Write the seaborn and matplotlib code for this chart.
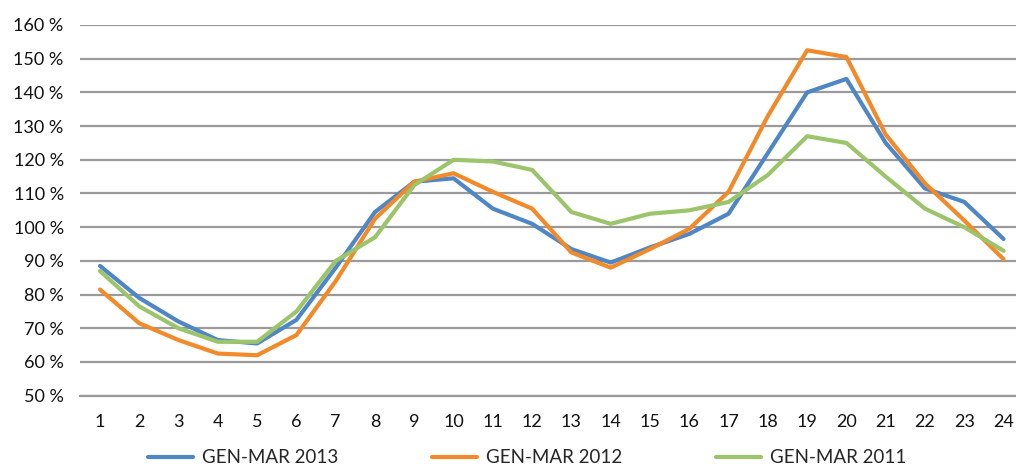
import pandas as pd
import numpy as np
import matplotlib
matplotlib.use("Agg")
import matplotlib.pyplot as plt
from matplotlib.ticker import FixedLocator
import seaborn as sns

# hours of the day 1..24
hours = list(range(1, 25))

# values, in percent
gen_mar_2013 = [88.5, 79, 72, 66.5, 65.5, 72.5, 88, 104.5, 113.5, 114.5, 105.5, 101,
                93.5, 89.5, 94, 98, 104, 122, 140, 144, 125, 111.5, 107.5, 96.5]
gen_mar_2012 = [81.5, 71.5, 66.5, 62.5, 62, 68, 84, 102.5, 113.5, 116, 110.5, 105.5,
                92.5, 88, 93.5, 99.5, 110.5, 133, 152.5, 150.5, 127.5, 113, 102, 90.5]
gen_mar_2011 = [87, 76.5, 70, 66, 66, 75, 90, 97, 112.5, 120, 119.5, 117,
                104.5, 101, 104, 105, 107.5, 115.5, 127, 125, 115, 105.5, 100, 93]

series_names = ["GEN-MAR 2013", "GEN-MAR 2012", "GEN-MAR 2011"]
colors = ["#4F86C6", "#F28A2A", "#9CC46B"]
y_ticks = list(range(50, 161, 10))

# long format for seaborn
df = pd.DataFrame({"ora": hours * 3,
                   "valore": gen_mar_2013 + gen_mar_2012 + gen_mar_2011,
                   "serie": [series_names[0]] * 24 + [series_names[1]] * 24 + [series_names[2]] * 24})

sns.set_style("white")
plt.rcParams['font.family'] = ['Lato', 'DejaVu Sans']

fig = plt.figure(figsize=(10.16, 4.69), dpi=100)
ax = fig.add_axes([0.0791, 0.1563, 0.928, 0.7904])

sns.lineplot(data=df, x="ora", y="valore", hue="serie", hue_order=series_names,
             palette=colors, linewidth=3, ax=ax, legend=False, zorder=3)

ax.set_xlim(0.5, 24.5)
ax.set_ylim(50, 160)
ax.set_yticks(y_ticks)
ax.set_yticklabels([f"{v} %" for v in y_ticks])
ax.set_xticks(hours)
ax.set_xticklabels([str(h) for h in hours])
ax.xaxis.set_minor_locator(FixedLocator(np.arange(0.5, 25, 1)))
ax.tick_params(axis="x", which="major", length=0, pad=13, labelsize=13, colors="#111111")
ax.tick_params(axis="x", which="minor", length=5, width=1.5, color="#9a9a9a", direction="out")
ax.tick_params(axis="y", length=0, pad=12, labelsize=13, colors="#111111")
ax.set_xlabel("")
ax.set_ylabel("")

ax.grid(axis="y", color="#9a9a9a", linewidth=1.6, zorder=0)
ax.set_axisbelow(True)
for s in ["top", "right", "left"]:
    ax.spines[s].set_visible(False)
ax.spines["bottom"].set_color("#9a9a9a")
ax.spines["bottom"].set_linewidth(1.6)

handles = [plt.Line2D([], [], color=c, linewidth=3) for c in colors]
fig.legend(handles, series_names, loc="center", bbox_to_anchor=(0.519, 0.0235), ncol=3,
           frameon=False, fontsize=13.5, handlelength=2.4, handletextpad=0.48, columnspacing=5.0,
           borderpad=0, borderaxespad=0)

fig.savefig("out.png", dpi=100)
